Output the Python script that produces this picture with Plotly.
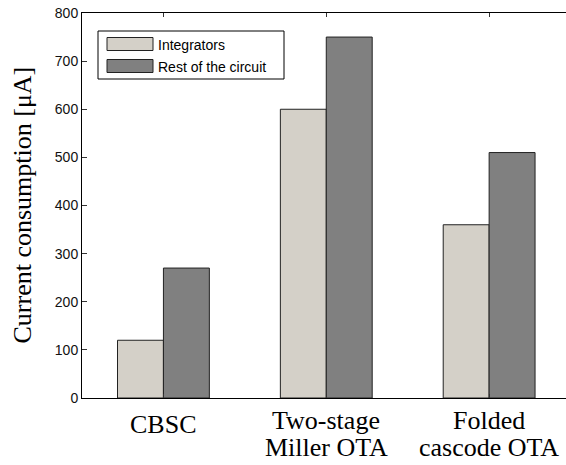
import plotly.graph_objects as go

categories = [["CBSC"], ["Two-stage", "Miller OTA"], ["Folded", "cascode OTA"]]
integrators = [120, 600, 360]
rest = [270, 750, 510]
series_names = ["Integrators", "Rest of the circuit"]
colors = ["#D4D0C8", "#808080"]
ytick_vals = [0, 100, 200, 300, 400, 500, 600, 700, 800]

x = [1, 2, 3]
fig = go.Figure()
fig.add_trace(go.Bar(x=x, y=integrators, name=series_names[0], marker=dict(color=colors[0], line=dict(color="#222222", width=1))))
fig.add_trace(go.Bar(x=x, y=rest, name=series_names[1], marker=dict(color=colors[1], line=dict(color="#222222", width=1))))

L, T, W, H = 82, 13, 484, 385  # plot area in px
def py(p):
    return (L + 0 - L) if False else (T + H - p) / H

serif = "Liberation Serif, Times New Roman, serif"
sans = "Liberation Sans, Arial, sans-serif"

fig.update_layout(
    width=566, height=465,
    margin=dict(l=82, r=0, t=13, b=67),
    paper_bgcolor="white", plot_bgcolor="white",
    barmode="group", bargap=0.436, bargroupgap=0,
    showlegend=False,
    xaxis=dict(range=[0.5, 3.472], tickvals=x, ticktext=["", "", ""], automargin=False,
               showline=True, linecolor="black", linewidth=1, mirror="ticks",
               ticks="inside", ticklen=4, tickcolor="#333333", showgrid=False, zeroline=False),
    yaxis=dict(range=[0, 800], tickvals=ytick_vals, automargin=False,
               showline=True, linecolor="black", linewidth=1, mirror=False,
               ticks="inside", ticklen=5, tickcolor="#333333", showgrid=False, zeroline=False,
               tickfont=dict(family=sans, size=14, color="#111111")),
)

# category labels (line-by-line for MATLAB-like tight spacing)
for xi, lines in zip(x, categories):
    if len(lines) == 1:
        centers = [424]
    else:
        centers = [420, 447]
    for ln, c in zip(lines, centers):
        fig.add_annotation(xref="x", yref="paper", x=xi, y=py(c), text=ln, showarrow=False,
                           xanchor="center", yanchor="middle",
                           font=dict(family=serif, size=26, color="black"))

# y-axis title
fig.add_annotation(xref="paper", yref="paper", x=(22 - L) / W, y=0.5, text="Current consumption [μA]",
                   textangle=-90, showarrow=False, xanchor="center", yanchor="middle",
                   font=dict(family=serif, size=26, color="black"))

# custom legend (MATLAB style)
fig.add_shape(type="rect", xref="paper", yref="paper", x0=(98 - L) / W, x1=(284 - L) / W,
              y0=py(79), y1=py(31), line=dict(color="black", width=1), fillcolor="white")
for i, (nm, c) in enumerate(zip(series_names, colors)):
    yc = 44 + i * 22
    fig.add_shape(type="rect", xref="paper", yref="paper", x0=(107 - L) / W, x1=(153 - L) / W,
                  y0=py(yc + 6.5), y1=py(yc - 6.5), line=dict(color="#222222", width=1), fillcolor=c)
    fig.add_annotation(xref="paper", yref="paper", x=(156 - L) / W, y=py(yc + 1), text=nm,
                       showarrow=False, xanchor="left", yanchor="middle",
                       font=dict(family=sans, size=14, color="black"))

fig.write_html("out.html")
